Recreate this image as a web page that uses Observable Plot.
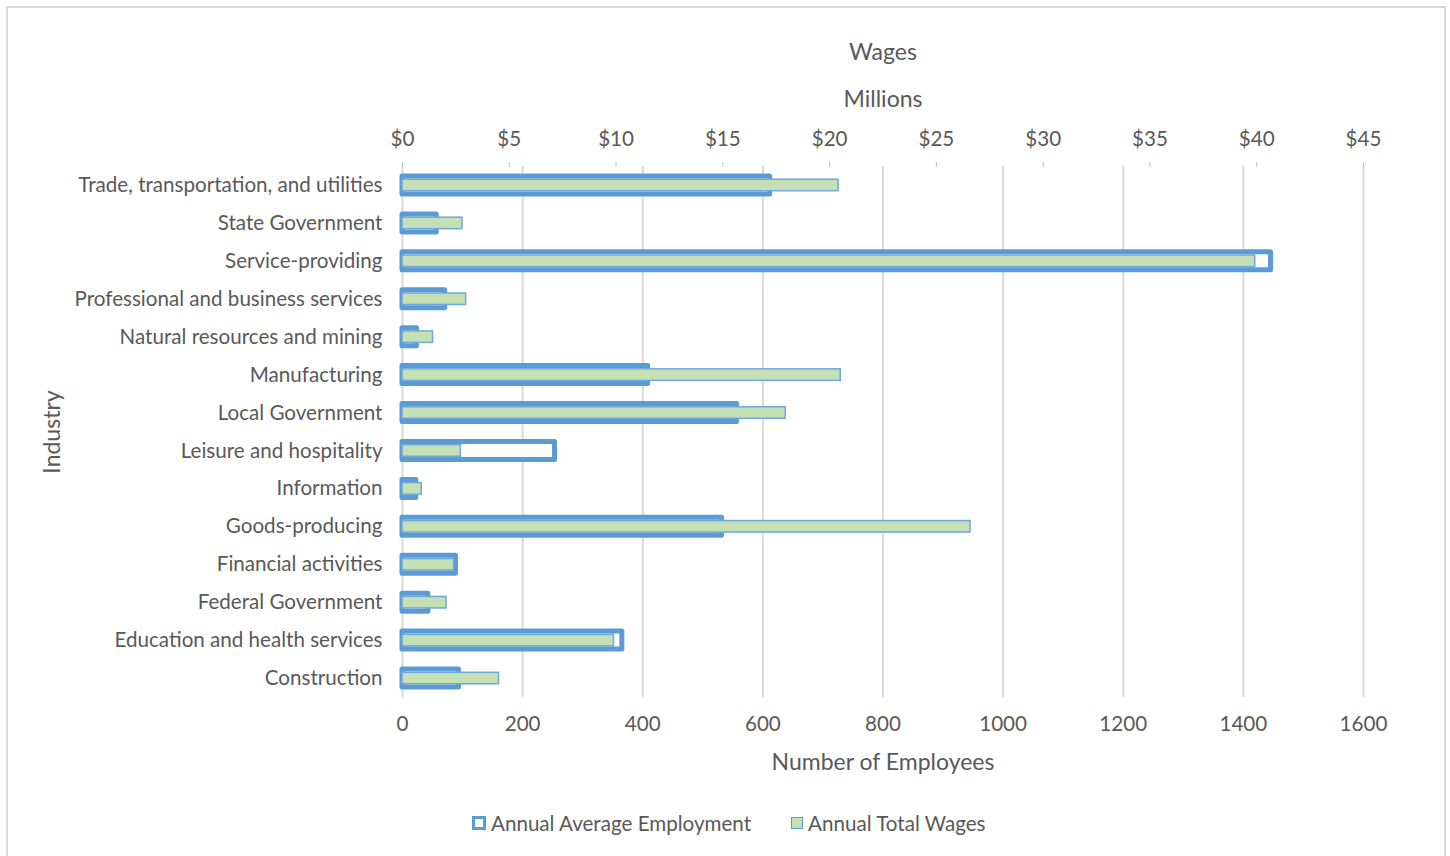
<!DOCTYPE html>
<html>
<head>
<meta charset="utf-8">
<script src="https://cdn.jsdelivr.net/npm/d3@7"></script>
<script src="https://cdn.jsdelivr.net/npm/@observablehq/plot@0.6"></script>
<style>
  html, body { margin: 0; padding: 0; background: #fff; }
  #wrap { position: relative; width: 1450px; height: 856px; overflow: hidden; font-family: Lato, "Open Sans", sans-serif; color: #595959; }
  #frame { position: absolute; left: 6px; top: 6px; width: 1440px; height: 900px; border: 2px solid #d9d9d9; box-sizing: border-box; }
  #chart { position: absolute; left: 0; top: 0; }
  #legend { position: absolute; left: 472px; top: 811px; display: flex; align-items: center; font-size: 20.6px; color: #595959; white-space: nowrap; }
  .item { display: flex; align-items: center; margin-right: 40px; }
  .sw { margin-right: 5px; box-sizing: content-box; }
  .sw.emp { background: #fff; border: 3px solid #5b9bd5; width: 8px; height: 8px; }
  .sw.wag { background: #c5e0b4; border: 1.5px solid #5b9bd5; width: 10px; height: 10px; }
</style>
</head>
<body>
<div id="wrap">
  <div id="frame"></div>
  <div id="chart"></div>
  <div id="legend">
    <div class="item"><span class="sw emp"></span><span>Annual Average Employment</span></div>
    <div class="item"><span class="sw wag"></span><span>Annual Total Wages</span></div>
  </div>
</div>
<script>
const industries = [
  "Trade, transportation, and utilities",
  "State Government",
  "Service-providing",
  "Professional and business services",
  "Natural resources and mining",
  "Manufacturing",
  "Local Government",
  "Leisure and hospitality",
  "Information",
  "Goods-producing",
  "Financial activities",
  "Federal Government",
  "Education and health services",
  "Construction"
];
// Annual Average Employment (number of employees)
const employment = [612, 57, 1446, 71, 24, 409, 557, 254, 23, 532, 89, 43, 366, 94];
// Annual Total Wages (millions of dollars)
const wagesMillions = [20.42, 2.81, 39.93, 2.98, 1.43, 20.52, 17.94, 2.73, 0.90, 26.6, 2.41, 2.06, 9.90, 4.52];

const empTicks = [0, 200, 400, 600, 800, 1000, 1200, 1400, 1600];
const wageTicks = [0, 5, 10, 15, 20, 25, 30, 35, 40, 45];

const EMP_MAX = 1600, WAGE_MAX = 45;
const wageToEmp = w => w * EMP_MAX / WAGE_MAX;

const data = industries.map((industry, i) => ({
  industry,
  employment: employment[i],
  wages: wagesMillions[i]
}));

const H = 800, MT = 166, MB = 103;
const step = (H - MT - MB) / industries.length;
const blueInset = (step - 18) / 2;
const greenInset = (step - 11.5) / 2;

const chart = Plot.plot({
  width: 1450,
  height: H,
  marginLeft: 402,
  marginRight: 87,
  marginTop: MT,
  marginBottom: MB,
  style: { fontFamily: "Lato, 'Open Sans', sans-serif", fontSize: "20.6px", color: "#595959", background: "transparent", overflow: "visible" },
  x: { domain: [0, EMP_MAX] },
  y: { domain: industries, padding: 0, round: false },
  marks: [
    Plot.gridX(empTicks, { stroke: "#d9d9d9", strokeOpacity: 1, strokeWidth: 2 }),
    Plot.axisX({ anchor: "bottom", ticks: empTicks, tickSize: 0, tickPadding: 19, tickFormat: d => String(d), fontSize: 20.6,
      label: null }),
    Plot.text(["Number of Employees"], { frameAnchor: "bottom", lineAnchor: "middle", dy: 65, fontSize: 23, fill: "#595959" }),
    Plot.axisX({ anchor: "top", ticks: wageTicks.map(wageToEmp), tickSize: 5, tickPadding: 16, stroke: "#bfbfbf",
      tickFormat: d => "$" + Math.round(d * WAGE_MAX / EMP_MAX), label: null, fontSize: 20.6 }),
    Plot.axisY({ tickSize: 0, tickPadding: 20, label: null, fontSize: 20.6 }),
    Plot.text(["Industry"], { frameAnchor: "left", textAnchor: "middle", lineAnchor: "middle", rotate: -90, dx: -350, fontSize: 23, fill: "#595959" }),
    Plot.barX(data, { x: "employment", y: "industry", fill: "white", stroke: "#5b9bd5", strokeWidth: 5, strokeLinejoin: "round",
      insetTop: blueInset, insetBottom: blueInset }),
    Plot.barX(data, { x: d => wageToEmp(d.wages), y: "industry", fill: "#c5e0b4", stroke: "#6fa8dc", strokeWidth: 1.5,
      insetTop: greenInset, insetBottom: greenInset }),
    Plot.text(["Millions"], { frameAnchor: "top", lineAnchor: "middle", dy: -67, fontSize: 23, fill: "#595959" }),
    Plot.text(["Wages"], { frameAnchor: "top", lineAnchor: "middle", dy: -114, fontSize: 23, fill: "#595959" })
  ]
});
document.getElementById("chart").appendChild(chart);
</script>
</body>
</html>
